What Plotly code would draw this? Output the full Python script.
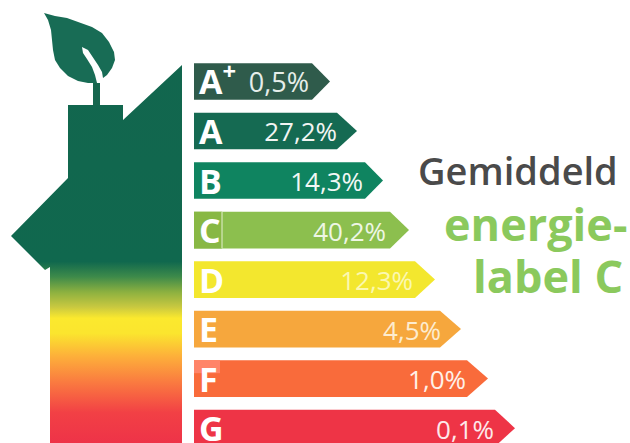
import plotly.graph_objects as go

labels = ["A<sup>+</sup>", "A", "B", "C", "D", "E", "F", "G"]
values = ["0,5%", "27,2%", "14,3%", "40,2%", "12,3%", "4,5%", "1,0%", "0,1%"]
arrow_body_end = [312, 337, 365, 390, 415, 440, 467, 495]
arrow_tip = [330, 357, 383, 409, 435, 461, 488, 515]
value_right = [309, 337, 363, 386, 413, 441, 466, 494]
arrow_colors = ["#2f5b4b", "#156a52", "#0f8460", "#8cbf4e", "#f3e72e", "#f6a73d", "#f96b3b", "#ee3446"]
value_colors = ["#e6eeea", "#f2f5f3", "#f2f8f5", "#eef6e4", "#fbf8b0", "#fdeccf", "#fff0e8", "#fde8ea"]
value_sizes = [27, 26, 26, 26, 26, 26, 26, 26]

house_x = [50, 50, 45, 11, 68, 68, 123, 123, 182, 182]
house_y = [443, 267, 270, 236, 178, 105, 105, 120, 65, 443]
leaf_x = [44, 55, 67, 80, 92, 102, 109, 114, 115, 112, 107, 103, 102, 98, 93, 88, 82,
          83, 87, 92, 95, 97, 88, 78, 68, 60, 55, 53, 52, 51, 48]
leaf_y = [13, 16, 18, 23, 27, 33, 42, 52, 60, 68, 75, 78, 72, 65, 57, 50, 47,
          53, 59, 67, 75, 83, 83, 81, 76, 68, 60, 50, 40, 30, 20]
stem_x = [93, 100, 100, 93]
stem_y = [83, 83, 105, 105]
gradient_stops = [
    (0.0, "#12664e"), (0.52, "#10684e"), (0.56, "#3d8a4a"), (0.60, "#8bb040"), (0.64, "#c8c840"),
    (0.67, "#fbe92e"), (0.71, "#fbe52e"), (0.77, "#fdb03a"), (0.84, "#fa7a40"),
    (0.92, "#f24045"), (1.0, "#ee3348"),
]

fig = go.Figure()

half = 0.37
for i, (end, tip, col) in enumerate(zip(arrow_body_end, arrow_tip, arrow_colors)):
    fig.add_trace(go.Scatter(
        x=[194, end, tip, end, 194], y=[i - half, i - half, i, i + half, i + half],
        mode="lines", fill="toself", line=dict(width=0), fillcolor=col,
        hoverinfo="skip", showlegend=False))

# scan artefacts around the C and F letter boxes, kept beneath the letters
fig.add_trace(go.Scatter(x=[194, 222, 222, 194], y=[3 - half, 3 - half, 3 + half, 3 + half],
                         mode="lines", fill="toself", line=dict(width=0), fillcolor="#88b844",
                         hoverinfo="skip", showlegend=False))
fig.add_trace(go.Scatter(x=[222, 222], y=[3 - half, 3 + half], mode="lines",
                         line=dict(color="#e4f0d0", width=1), hoverinfo="skip", showlegend=False))
fig.add_trace(go.Scatter(x=[194, 220, 220, 194], y=[6 - half, 6 - half, 6 - half + 0.26, 6 - half + 0.26],
                         mode="lines", fill="toself", line=dict(width=0), fillcolor="#ff8468",
                         hoverinfo="skip", showlegend=False))

rows = list(range(len(labels)))
fig.add_trace(go.Scatter(
    x=[199] * len(labels), y=[r + 0.09 for r in rows], text=labels, mode="text",
    textposition="middle right",
    textfont=dict(family="Open Sans", size=34, color="white", weight=700),
    showlegend=False, cliponaxis=False))
fig.add_trace(go.Scatter(
    x=value_right, y=[r + 0.08 for r in rows], text=values, mode="text",
    textposition="middle left",
    textfont=dict(family="Open Sans", size=value_sizes, color=value_colors),
    showlegend=False, cliponaxis=False))

fig.add_trace(go.Scatter(
    x=house_x, y=house_y, yaxis="y2", mode="lines", fill="toself", line=dict(width=0),
    fillgradient=dict(type="vertical", colorscale=gradient_stops, start=65, stop=443),
    hoverinfo="skip", showlegend=False))
fig.add_trace(go.Scatter(x=stem_x, y=stem_y, yaxis="y2", mode="lines", fill="toself",
                         line=dict(width=0), fillcolor="#16664e", showlegend=False))
fig.add_trace(go.Scatter(x=leaf_x, y=leaf_y, yaxis="y2", mode="lines", fill="toself",
                         line=dict(width=0), fillcolor="#186c55", showlegend=False))

fig.add_annotation(x=620, y=170, yref="y2", xref="x", text="Gemiddeld", showarrow=False,
                   xanchor="right", yanchor="middle",
                   font=dict(family="Open Sans", size=38, color="#4a4a4a", weight=600))
fig.add_annotation(x=629, y=223, yref="y2", xref="x", text="energie-", showarrow=False,
                   xanchor="right", yanchor="middle",
                   font=dict(family="Open Sans", size=45, color="#8bc95d", weight=700))
fig.add_annotation(x=625, y=275, yref="y2", xref="x", text="label C", showarrow=False,
                   xanchor="right", yanchor="middle",
                   font=dict(family="Open Sans", size=45, color="#8bc95d", weight=700))

fig.update_layout(
    width=630, height=443, margin=dict(l=0, r=0, t=0, b=0),
    paper_bgcolor="white", plot_bgcolor="white", showlegend=False,
    xaxis=dict(range=[0, 630], visible=False, fixedrange=True),
    yaxis=dict(range=[7.30, -1.646], visible=False, fixedrange=True),
    yaxis2=dict(range=[443, 0], visible=False, overlaying="y", fixedrange=True),
)
fig.write_html("out.html", config=dict(displayModeBar=False),
               post_script="document.body.style.margin='0';document.documentElement.style.overflow='hidden';")
